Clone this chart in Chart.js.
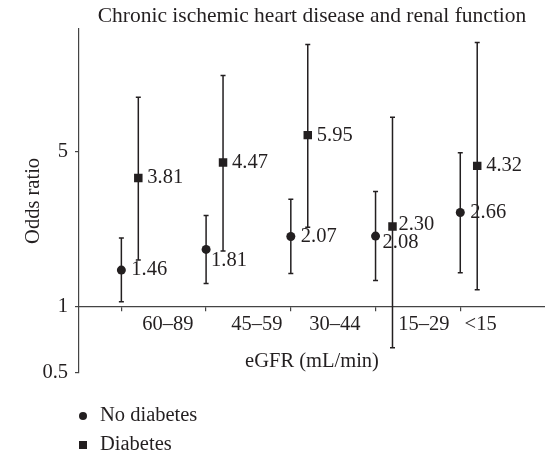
<!DOCTYPE html>
<html><head><meta charset="utf-8">
<style>html,body{margin:0;padding:0;background:#fff;overflow:hidden;} canvas{display:block;}</style>
<script src="https://cdn.jsdelivr.net/npm/chart.js@4.4.1/dist/chart.umd.min.js"></script>
</head><body>
<canvas id="c" width="545" height="455"></canvas>
<script>
// ---- data ----
const categories = ['60–89', '45–59', '30–44', '15–29', '<15'];
const seriesNames = ['No diabetes', 'Diabetes'];
const noDiabetesOR = [1.46, 1.81, 2.07, 2.08, 2.66];
const noDiabetesLow = [1.05, 1.27, 1.41, 1.31, 1.42];
const noDiabetesHigh = [2.04, 2.58, 3.05, 3.31, 4.95];
const diabetesOR = [3.81, 4.47, 5.95, 2.30, 4.32];
const diabetesLow = [1.62, 1.78, 2.28, 0.65, 1.19];
const diabetesHigh = [8.82, 11.06, 15.3, 7.17, 15.6];
const yTickValues = [0.5, 1, 5];

// ---- layout / style (not data) ----
const SERIES_OFFSET = 0.2;
const LABEL_POS = [0.55, 1.6, 2.52, 3.57, 4.24];
const LABEL_NUDGE = [
  [[0, 0], [-5, 11], [0, 0], [-3, 7], [0, 0]],
  [[0, 0], [0, 0], [0, 0], [-3, -2], [0, 0]]
];
const INK = '#231f20';
const AXIS = '#444444';
const FAMILY = "'Liberation Serif', 'Times New Roman', serif";
const FONT = { family: FAMILY, size: 20.5, weight: 'normal' };

const errorBars = {
  id: 'errorBars',
  beforeDatasetsDraw(chart) {
    const { ctx, scales: { x, y } } = chart;
    ctx.save();
    ctx.strokeStyle = INK;
    ctx.lineWidth = 1.5;
    chart.data.datasets.forEach(ds => {
      ds.data.forEach((p, i) => {
        const px = x.getPixelForValue(p.x);
        const y1 = y.getPixelForValue(ds.lo[i]);
        const y2 = y.getPixelForValue(ds.hi[i]);
        ctx.beginPath();
        ctx.moveTo(px, y1); ctx.lineTo(px, y2);
        ctx.moveTo(px - 2.5, y1); ctx.lineTo(px + 2.5, y1);
        ctx.moveTo(px - 2.5, y2); ctx.lineTo(px + 2.5, y2);
        ctx.stroke();
      });
    });
    ctx.restore();
  }
};

const valueLabels = {
  id: 'valueLabels',
  afterDatasetsDraw(chart) {
    const { ctx } = chart;
    ctx.save();
    ctx.fillStyle = INK;
    ctx.font = `${FONT.size}px ${FAMILY}`;
    ctx.textAlign = 'left';
    ctx.textBaseline = 'middle';
    chart.data.datasets.forEach((ds, di) => {
      const meta = chart.getDatasetMeta(di);
      meta.data.forEach((pt, i) => {
        const n = LABEL_NUDGE[di][i];
        const gap = di === 0 ? 10 : 9;
        ctx.fillText(ds.data[i].y.toFixed(2), pt.x + gap + n[0], pt.y + n[1]);
      });
    });
    ctx.restore();
  }
};

const stackedLegend = {
  id: 'stackedLegend',
  afterDraw(chart) {
    const { ctx, chartArea } = chart;
    ctx.save();
    ctx.font = `${FONT.size}px ${FAMILY}`;
    ctx.textAlign = 'left';
    ctx.textBaseline = 'middle';
    chart.data.datasets.forEach((ds, i) => {
      const cy = 416 + i * 29;
      const cx = chartArea.left + 4;
      ctx.fillStyle = INK;
      ctx.beginPath();
      if (ds.pointStyle === 'rect') {
        ctx.rect(cx - 4, cy - 4, 8, 8);
      } else {
        ctx.arc(cx, cy, 4, 0, Math.PI * 2);
      }
      ctx.fill();
      ctx.fillText(ds.label, cx + 17, cy);
    });
    ctx.restore();
  }
};

new Chart(document.getElementById('c'), {
  type: 'scatter',
  data: {
    datasets: [
      {
        label: seriesNames[0],
        data: noDiabetesOR.map((v, i) => ({ x: i, y: v })),
        lo: noDiabetesLow, hi: noDiabetesHigh,
        pointStyle: 'circle', pointRadius: 4.5, pointHoverRadius: 4.5,
        backgroundColor: INK, borderColor: INK, borderWidth: 0, hoverBorderWidth: 0, showLine: false
      },
      {
        label: seriesNames[1],
        data: diabetesOR.map((v, i) => ({ x: i + SERIES_OFFSET, y: v })),
        lo: diabetesLow, hi: diabetesHigh,
        pointStyle: 'rect', pointRadius: 6, pointHoverRadius: 6,
        backgroundColor: INK, borderColor: INK, borderWidth: 0, hoverBorderWidth: 0, showLine: false
      }
    ]
  },
  options: {
    responsive: false,
    animation: false,
    layout: { autoPadding: false, padding: { top: 0, left: 0, right: 0, bottom: 82 } },
    plugins: {
      legend: { display: false },
      tooltip: { enabled: false },
      title: {
        display: true, fullSize: false,
        text: 'Chronic ischemic heart disease and renal function',
        font: { family: FAMILY, size: 21.5, weight: 'normal' }, color: INK,
        padding: { top: 3, bottom: 0 }
      }
    },
    scales: {
      y: {
        type: 'logarithmic', min: 0.5, max: 18, position: 'left',
        afterBuildTicks: s => { s.ticks = yTickValues.map(v => ({ value: v })); },
        afterFit: s => { s.width = 79; },
        ticks: { callback: v => String(v), font: FONT, color: INK, padding: 7, autoSkip: false },
        grid: { drawOnChartArea: false, drawTicks: true, tickLength: 4, color: AXIS, lineWidth: 1.2 },
        border: { display: true, color: AXIS, width: 1.2 },
        title: { display: true, text: 'Odds ratio', font: FONT, color: INK, padding: { top: 21, bottom: 0 } }
      },
      x: {
        type: 'linear', min: -0.5, max: 5, position: { y: 1 },
        afterBuildTicks: s => { s.ticks = categories.map((_, i) => ({ value: i })); },
        afterFit: s => { s.height = 0; },
        ticks: { display: false },
        grid: { drawOnChartArea: false, drawTicks: true, tickLength: 4, color: AXIS, lineWidth: 1.2 },
        border: { display: true, color: AXIS, width: 1.2 }
      },
      xl: {
        type: 'linear', axis: 'x', min: -0.5, max: 5, position: { y: 1 },
        afterBuildTicks: s => { s.ticks = LABEL_POS.map(v => ({ value: v })); },
        afterFit: s => { s.height = 82; },
        ticks: { callback: (v, i) => categories[i], font: FONT, color: INK, padding: 6, autoSkip: false, maxRotation: 0 },
        grid: { display: false, drawTicks: false, tickLength: 0 },
        border: { display: false },
        title: { display: true, text: 'eGFR (mL/min)', font: FONT, color: INK, padding: { top: 0, bottom: 15 } }
      }
    }
  },
  plugins: [errorBars, valueLabels, stackedLegend]
});
</script>
</body></html>
